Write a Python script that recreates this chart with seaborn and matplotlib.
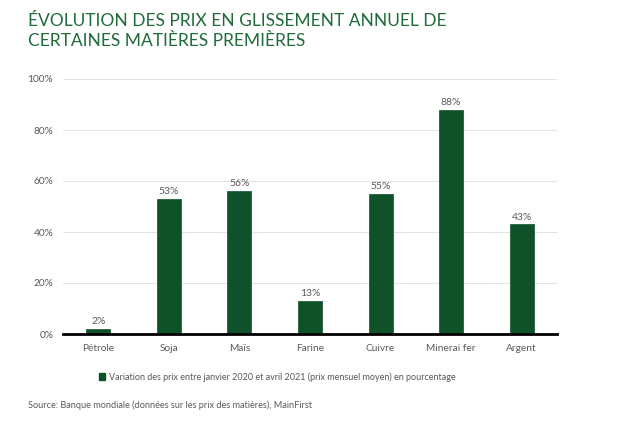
import matplotlib
matplotlib.use('Agg')
import matplotlib.pyplot as plt
import seaborn as sns
import pandas as pd
from matplotlib.patches import Patch
from matplotlib.ticker import PercentFormatter

categories = ['Pétrole', 'Soja', 'Maïs', 'Farine', 'Cuivre', 'Minerai fer', 'Argent']
values = [2, 53, 56, 13, 55, 88, 43]
series_name = 'Variation des prix entre janvier 2020 et avril 2021 (prix mensuel moyen) en pourcentage'

green = '#0f5128'
title_green = '#1f6b3a'
grey = '#595959'

sns.set_theme(style='white')
plt.rcParams['font.family'] = ['Lato', 'DejaVu Sans']

df = pd.DataFrame({'cat': categories, 'val': values})

fig = plt.figure(figsize=(6.4, 4.25), dpi=100)
ax = fig.add_axes([63/640, 1-334/425, (557-63)/640, (334-79)/425])

sns.barplot(data=df, x='cat', y='val', color=green, width=0.34, ax=ax,
            edgecolor=green, linewidth=0.5, saturation=1)

ax.set_ylim(0, 100)
ax.set_xlim(-0.5, 6.5)
ax.set_yticks([0, 20, 40, 60, 80, 100])
ax.yaxis.set_major_formatter(PercentFormatter(decimals=0))
ax.yaxis.grid(True, color='#e3e3e3', linewidth=0.8)
ax.set_axisbelow(True)
for s in ['top', 'right', 'left']:
    ax.spines[s].set_visible(False)
ax.spines['bottom'].set_color('black')
ax.spines['bottom'].set_linewidth(2)
ax.set_xlabel('')
ax.set_ylabel('')
ax.tick_params(axis='both', length=0, labelsize=7.3, colors=grey, pad=7)

ax.bar_label(ax.containers[0], labels=[f'{v}%' for v in values],
             fontsize=7.5, color=grey, padding=2)

fig.text(28/640, 1-31/425, 'ÉVOLUTION DES PRIX EN GLISSEMENT ANNUEL DE\nCERTAINES MATIÈRES PREMIÈRES',
         fontsize=12.5, color=title_green, ha='left', va='center', linespacing=1.3)

fig.legend(handles=[Patch(facecolor=green, edgecolor=green, label=series_name)],
           loc='center', bbox_to_anchor=(277/640, 1-377/425), frameon=False,
           fontsize=6.5, handlelength=0.7, handleheight=0.7, handletextpad=0.4,
           labelcolor=grey)

fig.text(28/640, 1-405/425, 'Source: Banque mondiale (données sur les prix des matières), MainFirst',
         fontsize=6.6, color=grey, ha='left', va='center')

fig.savefig('out.png', dpi=100, facecolor='white')
